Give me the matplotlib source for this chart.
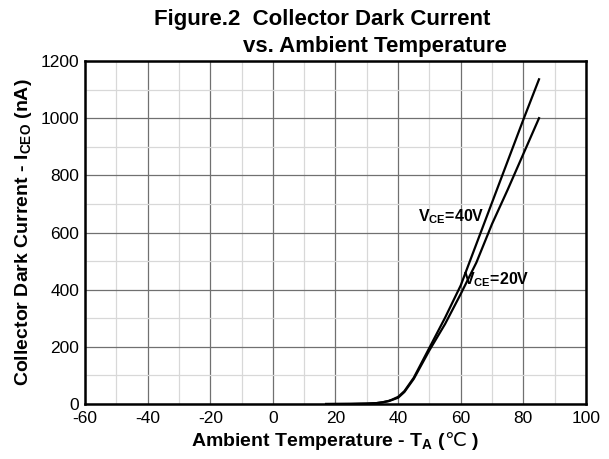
import matplotlib
matplotlib.use("Agg")
import matplotlib.pyplot as plt

plt.rcParams['font.family'] = ['Liberation Sans', 'DejaVu Sans']
plt.rcParams['mathtext.fontset'] = 'custom'
plt.rcParams['mathtext.rm'] = 'Liberation Sans:weight=bold'
plt.rcParams['mathtext.it'] = 'Liberation Sans:weight=bold'
plt.rcParams['mathtext.bf'] = 'Liberation Sans:weight=bold'
plt.rcParams['mathtext.sf'] = 'DejaVu Sans'
plt.rcParams['axes.unicode_minus'] = False

# Temperature (C) and dark current (nA)
TEMP_40V = [17, 25, 30, 33, 35, 37, 38, 40, 42, 45, 50, 55, 60, 65, 70, 75, 80, 85]
ICEO_40V = [0, 0.5, 1.5, 3, 6, 11, 15, 25, 45, 92, 197, 302, 415, 560, 705, 850, 995, 1136]

TEMP_20V = [17, 25, 30, 33, 35, 37, 38, 40, 42, 45, 50, 55, 60, 65, 70, 75, 80, 85]
ICEO_20V = [0, 0.5, 1.5, 3, 6, 10, 14, 22, 42, 88, 188, 280, 385, 495, 630, 750, 875, 1000]

X_TICKS = [-60, -40, -20, 0, 20, 40, 60, 80, 100]
Y_TICKS = [0, 200, 400, 600, 800, 1000, 1200]

fig = plt.figure(figsize=(6.09, 4.59), dpi=100)
ax = fig.add_axes([0.1396, 0.1198, 0.8226, 0.7473])

ax.plot(TEMP_40V, ICEO_40V, color='black', linewidth=1.6)
ax.plot(TEMP_20V, ICEO_20V, color='black', linewidth=1.6)

ax.set_xlim(-60, 100)
ax.set_ylim(0, 1200)
ax.set_xticks(X_TICKS)
ax.set_yticks(Y_TICKS)
ax.set_xticks(range(-50, 100, 20), minor=True)
ax.set_yticks(range(100, 1200, 200), minor=True)
ax.grid(True, which='major', color='#707070', linewidth=0.9)
ax.grid(True, which='minor', color='#d8d8d8', linewidth=0.9)
ax.set_axisbelow(True)
ax.tick_params(which='both', length=0, labelsize=12.5)
ax.tick_params(axis='x', pad=5)
ax.tick_params(axis='y', pad=4)

for s in ax.spines.values():
    s.set_linewidth(1.8)
    s.set_color('black')

ax.text(46.4, 655, r'V$_{\mathbf{CE}}$=40V', fontsize=11.5, fontweight='bold', va='center')
ax.text(60.7, 434, r'V$_{\mathbf{CE}}$=20V', fontsize=11.5, fontweight='bold', va='center')

ax.set_xlabel(r'Ambient Temperature - T$_{\mathbf{A}}$ ($\mathsf{℃}$ )', fontsize=14, fontweight='bold', labelpad=3)
ax.set_ylabel(r'Collector Dark Current - I$_{\mathbf{CEO}}$ (nA)', fontsize=14, fontweight='bold', labelpad=5)

fig.text(0.529, 0.958, 'Figure.2  Collector Dark Current', ha='center', va='center',
         fontsize=16, fontweight='bold')
fig.text(0.616, 0.899, 'vs. Ambient Temperature', ha='center', va='center',
         fontsize=16, fontweight='bold')

fig.savefig('out.png', dpi=100)
